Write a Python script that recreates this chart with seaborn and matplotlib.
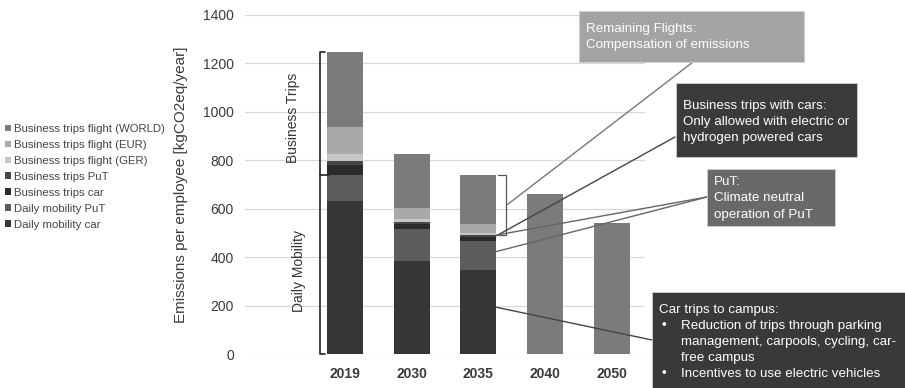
import matplotlib
matplotlib.use("Agg")
import matplotlib.pyplot as plt
from matplotlib.patches import Rectangle, Patch
import seaborn as sns
import pandas as pd
import numpy as np

years = ["2019", "2030", "2035", "2040", "2050"]
daily_car = [630, 383, 348, 0, 0]
daily_put = [111, 135, 120, 0, 0]
bt_car = [38, 20, 15, 0, 0]
bt_put = [16, 8, 8, 0, 0]
flight_ger = [29, 12, 10, 0, 0]
flight_eur = [112, 45, 35, 0, 0]
flight_world = [311, 221, 205, 659, 539]

series_names = ["Daily mobility car", "Daily mobility PuT", "Business trips car",
                "Business trips PuT", "Business trips flight (GER)",
                "Business trips flight (EUR)", "Business trips flight (WORLD)"]
series_vals = [daily_car, daily_put, bt_car, bt_put, flight_ger, flight_eur, flight_world]
colors = ["#363636", "#5c5c5c", "#2b2b2b", "#474747", "#c6c6c6", "#a9a9a9", "#7b7b7b"]

sns.set_theme(style="white")
plt.rcParams["font.family"] = ["Liberation Sans", "DejaVu Sans"]

W, H = 905, 388
fig = plt.figure(figsize=(W / 100, H / 100), dpi=100)

def fx(x):
    return x / W

def fy(y):
    return 1 - y / H

ax = fig.add_axes([fx(245), fy(354), fx(645) - fx(245), fy(15) - fy(354)])

cum = np.zeros(len(years))
cums = []
for v in series_vals:
    cum = cum + np.array(v)
    cums.append(cum.copy())
# draw from top (total) downwards so lower stacks overlay
for name, c, col in reversed(list(zip(series_names, cums, colors))):
    d = pd.DataFrame({"year": years, "value": c})
    sns.barplot(data=d, x="year", y="value", color=col, width=0.54,
                saturation=1, ax=ax, order=years, linewidth=0)

ax.set_xlim(-1.5, 4.5)
ax.set_ylim(0, 1400)
ax.set_yticks(range(0, 1401, 200))
ax.yaxis.grid(True, color="#d9d9d9", linewidth=0.9)
ax.set_axisbelow(True)
for s in ax.spines.values():
    s.set_visible(False)
ax.tick_params(axis="both", length=0, labelsize=10, colors="#3a3a3a", pad=8)
ax.tick_params(axis="x", pad=9)
for lab in ax.get_xticklabels():
    lab.set_fontweight("bold")
ax.set_xlabel("")
ax.set_ylabel("Emissions per employee [kgCO2eq/year]", fontsize=11, color="#3a3a3a", labelpad=11)

# legend
handles = [Patch(facecolor=col, edgecolor="none", label=n)
           for n, col in zip(series_names, colors)][::-1]
fig.legend(handles=handles, loc="upper left", bbox_to_anchor=(fx(-3), fy(116)),
           frameon=False, fontsize=8.2, handlelength=0.5, handleheight=0.5,
           handletextpad=0.25, labelspacing=0.52, labelcolor="#444444",
           borderaxespad=0.3)

# left bracket
bx = -0.375
tot2019 = cums[-1][0]
split = cums[1][0]
ax.plot([bx + 0.08, bx, bx, bx + 0.08], [tot2019, tot2019, 0, 0], color="#222222",
        lw=1.2, clip_on=False)
ax.plot([bx, bx + 0.14], [split, split], color="#222222", lw=1.2, clip_on=False)
fig.text(fx(293), fy(118), "Business Trips", rotation=90, ha="center", va="center",
         fontsize=10, color="#333333")
fig.text(fx(299), fy(271), "Daily Mobility", rotation=90, ha="center", va="center",
         fontsize=10, color="#333333")

# small bracket at 2035
sx = 2.41
t35 = cums[-1][2]
b35 = cums[3][2]
ax.plot([sx - 0.11, sx, sx, sx - 0.11], [t35, t35, b35, b35], color="#555555",
        lw=0.9, clip_on=False)

def box(x0, y0, x1, y1, col):
    fig.patches.append(Rectangle((fx(x0), fy(y1)), fx(x1) - fx(x0), fy(y0) - fy(y1),
                                 transform=fig.transFigure, facecolor=col,
                                 edgecolor="#cfcfcf", lw=0.6, zorder=5))

def line_txt(x, y, s, size=9.6):
    fig.text(fx(x), fy(y), s, ha="left", va="center", fontsize=size,
             color="white", zorder=6)

def connector(xd, yd, xp, yp, col):
    ax.annotate("", xy=(xd, yd), xycoords="data", xytext=(fx(xp), fy(yp)),
                textcoords="figure fraction", annotation_clip=False,
                arrowprops=dict(arrowstyle="-", color=col, lw=1.0,
                                shrinkA=0, shrinkB=0))

# connectors
mid35 = (t35 + b35) / 2
connector(sx + 0.02, mid35, 693, 62, "#777777")
connector(2.27, cums[2][2] + 5, 675, 137, "#444444")
connector(2.27, cums[3][2], 707, 197, "#666666")
connector(2.27, cums[1][2] - 45, 707, 197, "#666666")
connector(2.27, cums[0][2] - 155, 652, 340, "#444444")

# boxes
box(579, 11, 804, 62, "#a3a3a3")
line_txt(586, 29, "Remaining Flights:")
line_txt(586, 45, "Compensation of emissions")

box(676, 83, 857, 157, "#3b3b3b")
line_txt(683, 106, "Business trips with cars:")
line_txt(683, 122, "Only allowed with electric or")
line_txt(683, 138, "hydrogen powered cars")

box(707, 169, 835, 226, "#696969")
line_txt(714, 182, "PuT:")
line_txt(714, 198, "Climate neutral")
line_txt(714, 215, "operation of PuT")

box(652, 292, 910, 392, "#393939")
line_txt(659, 310, "Car trips to campus:")
for yy, s, bullet in [(326, "Reduction of trips through parking", True),
                      (342, "management, carpools, cycling, car-", False),
                      (358, "free campus", False),
                      (374, "Incentives to use electric vehicles", True)]:
    if bullet:
        line_txt(662, yy, "\u2022")
    line_txt(681, yy, s)

fig.savefig("out.png", dpi=100)
